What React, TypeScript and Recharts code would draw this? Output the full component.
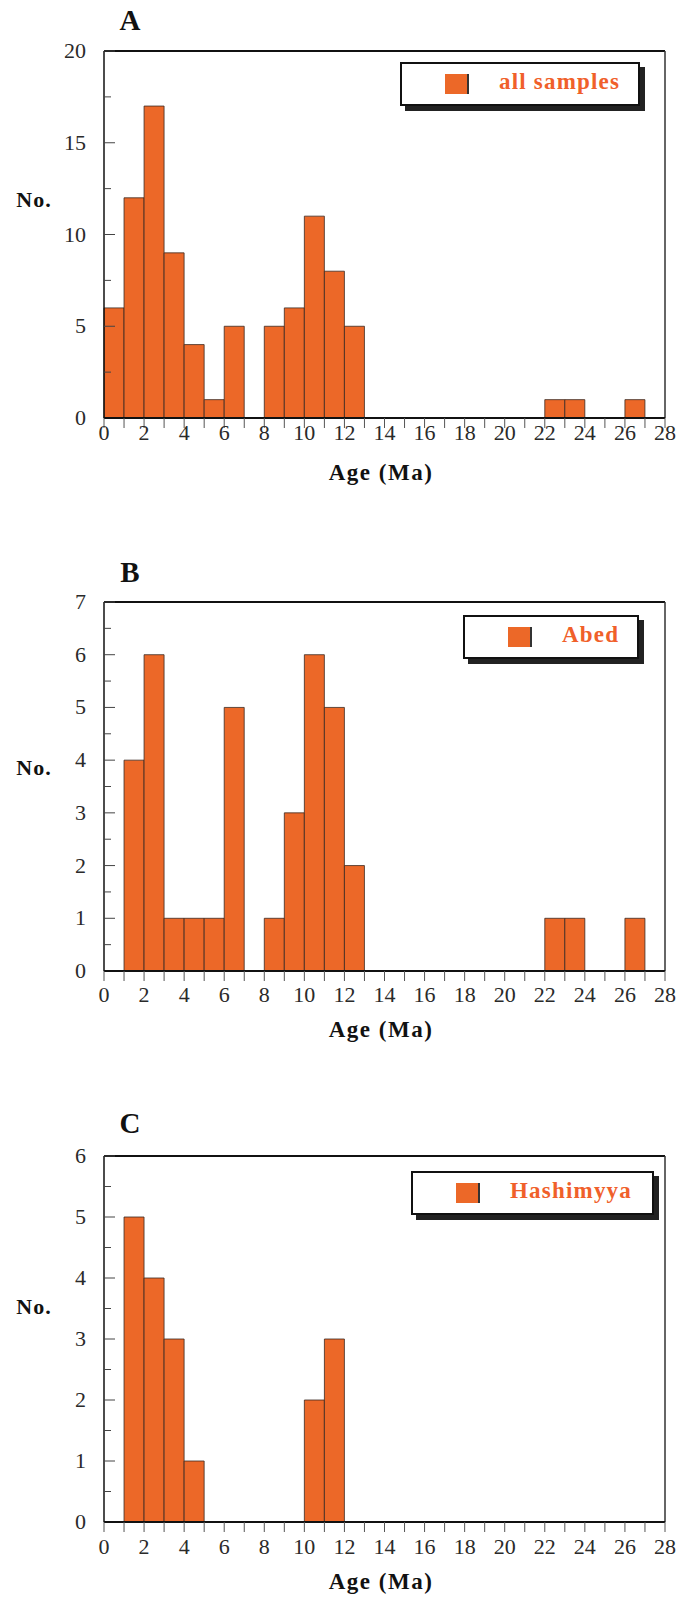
import React from "react";
import {
  BarChart,
  Bar,
  XAxis,
  YAxis,
  Legend,
  ReferenceLine,
} from "recharts";

// bin start ages (Ma), 1 Ma wide bins
const binStart = [
  0, 1, 2, 3, 4, 5, 6, 7, 8, 9, 10, 11, 12, 13, 14, 15, 16, 17, 18, 19, 20, 21,
  22, 23, 24, 25, 26, 27,
];

const allSamples = [
  6, 12, 17, 9, 4, 1, 5, 0, 5, 6, 11, 8, 5, 0, 0, 0, 0, 0, 0, 0, 0, 0, 1, 1, 0,
  0, 1, 0,
];
const abed = [
  0, 4, 6, 1, 1, 1, 5, 0, 1, 3, 6, 5, 2, 0, 0, 0, 0, 0, 0, 0, 0, 0, 1, 1, 0, 0,
  1, 0,
];
const hashimyya = [
  0, 5, 4, 3, 1, 0, 0, 0, 0, 0, 2, 3, 0, 0, 0, 0, 0, 0, 0, 0, 0, 0, 0, 0, 0, 0,
  0, 0,
];

const xTicks = [
  0, 1, 2, 3, 4, 5, 6, 7, 8, 9, 10, 11, 12, 13, 14, 15, 16, 17, 18, 19, 20, 21,
  22, 23, 24, 25, 26, 27, 28,
];
const yTicksA = [0, 2.5, 5, 7.5, 10, 12.5, 15, 17.5, 20];
const yTicksB = [0, 0.5, 1, 1.5, 2, 2.5, 3, 3.5, 4, 4.5, 5, 5.5, 6, 6.5, 7];
const yTicksC = [0, 0.5, 1, 1.5, 2, 2.5, 3, 3.5, 4, 4.5, 5, 5.5, 6];

const BAR = "#ec6828";
const LEGEND_TEXT = "#f0602a";
const FONT = "'Liberation Serif', 'DejaVu Serif', serif";

const YTick = (props: any) => {
  const { x, y, payload, step } = props;
  const v = payload.value;
  const major = Number.isInteger(v) && v % step === 0;
  const ax = x + 8;
  return (
    <g>
      {v > 0 && (
        <line x1={ax} x2={ax + (major ? 11 : 7)} y1={y} y2={y} stroke="#444" strokeWidth={1} />
      )}
      {major && (
        <text x={x - 10} y={y} dy={7} textAnchor="end" fontSize={22} fill="#2a2a2a" fontFamily={FONT}>
          {v}
        </text>
      )}
    </g>
  );
};

const XTick = (props: any) => {
  const { x, y, payload, shift } = props;
  const v = payload.value;
  if (v % 2 !== 0) return null;
  return (
    <text x={x} y={y} dy={shift} textAnchor="middle" fontSize={22} fill="#2a2a2a" fontFamily={FONT}>
      {v}
    </text>
  );
};

type PanelProps = {
  letter: string;
  name: string;
  values: number[];
  yMax: number;
  yTicks: number[];
  labelStep: number;
  top: number;
  height: number;
  plotTop: number;
  plotBottom: number;
  xLabelY: number;
  letterY: number;
  noY: number;
  ageY: number;
  legendBox: { left: number; top: number; width: number };
};

const Panel = (p: PanelProps) => {
  const data = binStart.map((s, i) => ({ mid: s + 0.5, count: p.values[i] }));
  const xAxisHeight = 30;
  const tickSize = 10;
  const abs = (y: number) => y - p.top;
  const marginBottom = p.height - abs(p.plotBottom) - xAxisHeight;
  // baseline offset so that the label centre sits at xLabelY
  const xShift = p.xLabelY - p.plotBottom - tickSize - 2 + 7;
  const textStyle: React.CSSProperties = {
    position: "absolute",
    transform: "translate(-50%, -50%)",
    fontFamily: FONT,
    fontWeight: "bold",
    color: "#111",
    whiteSpace: "nowrap",
  };
  return (
    <div style={{ position: "absolute", left: 0, top: p.top, width: 682, height: p.height }}>
      <div style={{ ...textStyle, left: 130, top: abs(p.letterY), fontSize: 29 }}>{p.letter}</div>
      <div style={{ ...textStyle, left: 34, top: abs(p.noY), fontSize: 22, letterSpacing: 1 }}>No.</div>
      <div style={{ ...textStyle, left: 381, top: abs(p.ageY), fontSize: 23, letterSpacing: 1.5 }}>
        Age (Ma)
      </div>
      <BarChart
        width={682}
        height={p.height}
        data={data}
        barCategoryGap={0}
        barGap={0}
        margin={{ top: abs(p.plotTop), right: 17, bottom: marginBottom, left: 40 }}
      >
        <XAxis
          dataKey="mid"
          type="number"
          domain={[0, 28]}
          ticks={xTicks}
          interval={0}
          height={xAxisHeight}
          tick={<XTick shift={xShift} />}
          tickSize={tickSize}
          tickLine={{ stroke: "#555" }}
          axisLine={{ stroke: "#111", strokeWidth: 2 }}
        />
        <YAxis
          type="number"
          domain={[0, p.yMax]}
          ticks={p.yTicks}
          interval={0}
          width={64}
          tickSize={0}
          tickMargin={8}
          tickLine={false}
          tick={<YTick step={p.labelStep} />}
          axisLine={{ stroke: "#111", strokeWidth: 1.5 }}
        />
        <ReferenceLine y={p.yMax} stroke="#111" strokeWidth={2} />
        <ReferenceLine x={28} stroke="#333" strokeWidth={1.5} />
        <Legend
          layout="horizontal"
          verticalAlign="middle"
          align="center"
          wrapperStyle={{
            position: "absolute",
            left: p.legendBox.left,
            top: abs(p.legendBox.top),
            width: p.legendBox.width,
            height: 44,
          }}
          content={() => (
            <div
              style={{
                position: "relative",
                boxSizing: "border-box",
                width: p.legendBox.width,
                height: 44,
                border: "2px solid #111",
                boxShadow: "5px 5px 0 #222",
                background: "#fff",
                fontFamily: FONT,
                fontWeight: "bold",
                fontSize: 23,
                letterSpacing: 1.2,
                color: LEGEND_TEXT,
              }}
            >
              <span
                style={{
                  position: "absolute",
                  left: 43,
                  top: 10,
                  width: 22,
                  height: 20,
                  background: BAR,
                  borderRight: "2px solid #333",
                }}
              />
              <span style={{ position: "absolute", left: 97, top: 5, whiteSpace: "nowrap" }}>{p.name}</span>
            </div>
          )}
        />
        <Bar
          dataKey="count"
          name={p.name}
          fill={BAR}
          stroke="#3a2a22"
          strokeWidth={0.8}
          isAnimationActive={false}
        />
      </BarChart>
    </div>
  );
};

export default function App() {
  return (
    <div style={{ position: "absolute", left: 0, top: 0, width: 682, height: 1597, background: "#fff" }}>
      <Panel
        letter="A"
        name="all samples"
        values={allSamples}
        yMax={20}
        yTicks={yTicksA}
        labelStep={5}
        top={0}
        height={500}
        plotTop={51}
        plotBottom={418}
        xLabelY={433}
        letterY={20}
        noY={200}
        ageY={473}
        legendBox={{ left: 400, top: 62, width: 240 }}
      />
      <Panel
        letter="B"
        name="Abed"
        values={abed}
        yMax={7}
        yTicks={yTicksB}
        labelStep={1}
        top={540}
        height={500}
        plotTop={602}
        plotBottom={971}
        xLabelY={995}
        letterY={572}
        noY={768}
        ageY={1030}
        legendBox={{ left: 463, top: 615, width: 176 }}
      />
      <Panel
        letter="C"
        name="Hashimyya"
        values={hashimyya}
        yMax={6}
        yTicks={yTicksC}
        labelStep={1}
        top={1090}
        height={507}
        plotTop={1156}
        plotBottom={1522}
        xLabelY={1547}
        letterY={1123}
        noY={1307}
        ageY={1582}
        legendBox={{ left: 411, top: 1171, width: 243 }}
      />
    </div>
  );
}
